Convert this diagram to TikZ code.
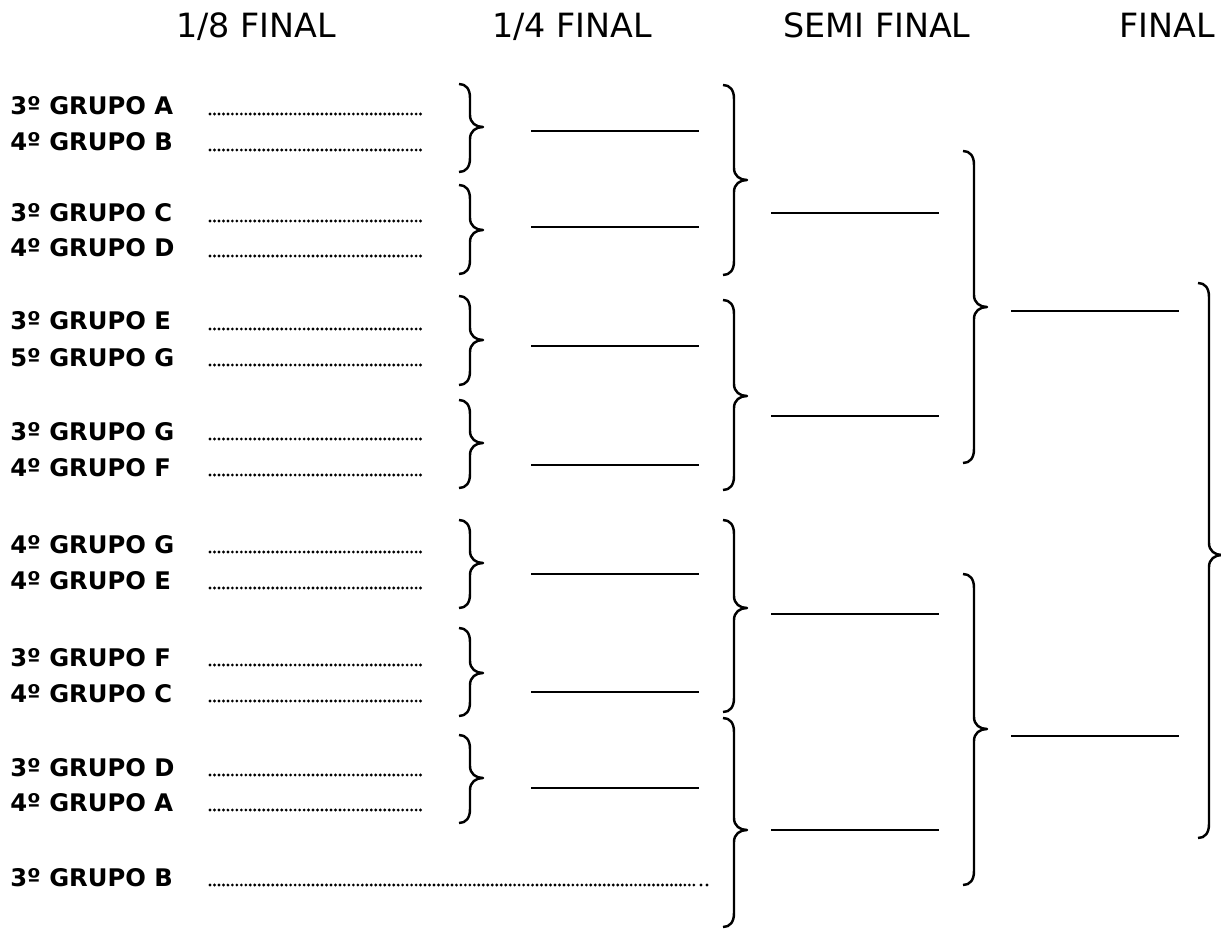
\documentclass[tikz,border=0pt]{standalone}
\usepackage{fontspec}
\setmainfont{DejaVu Sans}
\usetikzlibrary{positioning}

% right curly bracket: x, top, tip, bottom
\newcommand{\curlyR}[4]{%
\draw[brk] (#1,#2) .. controls (#1+7,#2) and (#1+11,#2+5) .. (#1+11,#2+14)
  -- (#1+11,#3-12) .. controls (#1+11,#3-4) and (#1+17,#3) .. (#1+24,#3)
  .. controls (#1+17,#3) and (#1+11,#3+4) .. (#1+11,#3+12)
  -- (#1+11,#4-14) .. controls (#1+11,#4-5) and (#1+7,#4) .. (#1,#4);}

\tikzset{
  head/.style={anchor=base, inner sep=0pt, font=\fontsize{19}{22}\selectfont},
  team/.style={anchor=base west, inner sep=0pt, font=\bfseries\fontsize{13.8}{16}\selectfont},
  leader/.style={line width=1.8pt, line cap=round, dash pattern=on 0pt off 2.55pt},
  blank/.style={line width=1.6pt},
  brk/.style={line width=1.4pt, line join=round}
}

\begin{document}
\begin{tikzpicture}[x=0.02cm, y=-0.02cm]
\useasboundingbox (0,0) rectangle (1221,929);

% headers
\node[head] (h8) at (256,38) {1/8 FINAL};
\node[head] (h4) at (572,38) {1/4 FINAL};
\node[head] (h2) at (877,38) {SEMI FINAL};
\node[head] (h1) at (1167,38) {FINAL};

% teams and dotted blanks
\foreach \n/\txt/\yb in {1/3º GRUPO A/115, 2/4º GRUPO B/151, 3/3º GRUPO C/222, 4/4º GRUPO D/257,
    5/3º GRUPO E/330, 6/5º GRUPO G/366, 7/3º GRUPO G/440, 8/4º GRUPO F/476,
    9/4º GRUPO G/553, 10/4º GRUPO E/589, 11/3º GRUPO F/666, 12/4º GRUPO C/702,
    13/3º GRUPO D/776, 14/4º GRUPO A/811}{
  \node[team] (t\n) at (10,\yb) {\txt};
  \coordinate (d\n) at (210,\yb-1);
  \draw[leader] (d\n) -- ++(213,0);
}
\node[team] (t15) at (10,886) {3º GRUPO B};
\coordinate (d15) at (210,885);
\draw[leader] (d15) -- ++(485,0);
\draw[leader, dash pattern=on 0pt off 3.4pt] (d15) ++(491,0) -- ++(7,0);

% round of 16 brackets
\curlyR{459}{84}{127}{172}
\curlyR{459}{185}{230}{274}
\curlyR{459}{296}{340}{385}
\curlyR{459}{400}{443}{488}
\curlyR{459}{520}{563}{608}
\curlyR{459}{628}{673}{716}
\curlyR{459}{735}{778}{823}

% quarter final blanks
\foreach \q/\y in {1/131, 2/227, 3/346, 4/465, 5/574, 6/692, 7/788}{
  \coordinate (q\q) at (531,\y);
  \draw[blank] (q\q) -- ++(168,0);
}

\curlyR{723}{85}{180}{275}
\curlyR{723}{300}{396}{490}
\curlyR{723}{520}{608}{712}
\curlyR{723}{718}{830}{927}

% semi final blanks
\foreach \s/\y in {1/213, 2/416, 3/614, 4/830}{
  \coordinate (s\s) at (771,\y);
  \draw[blank] (s\s) -- ++(168,0);
}

\curlyR{963}{151}{307}{463}
\curlyR{963}{574}{729}{885}

% final blanks
\coordinate (f1) at (1011,311);
\coordinate (f2) at (1011,736);
\draw[blank] (f1) -- ++(168,0);
\draw[blank] (f2) -- ++(168,0);

\curlyR{1198}{283}{555}{838}
\end{tikzpicture}
\end{document}
